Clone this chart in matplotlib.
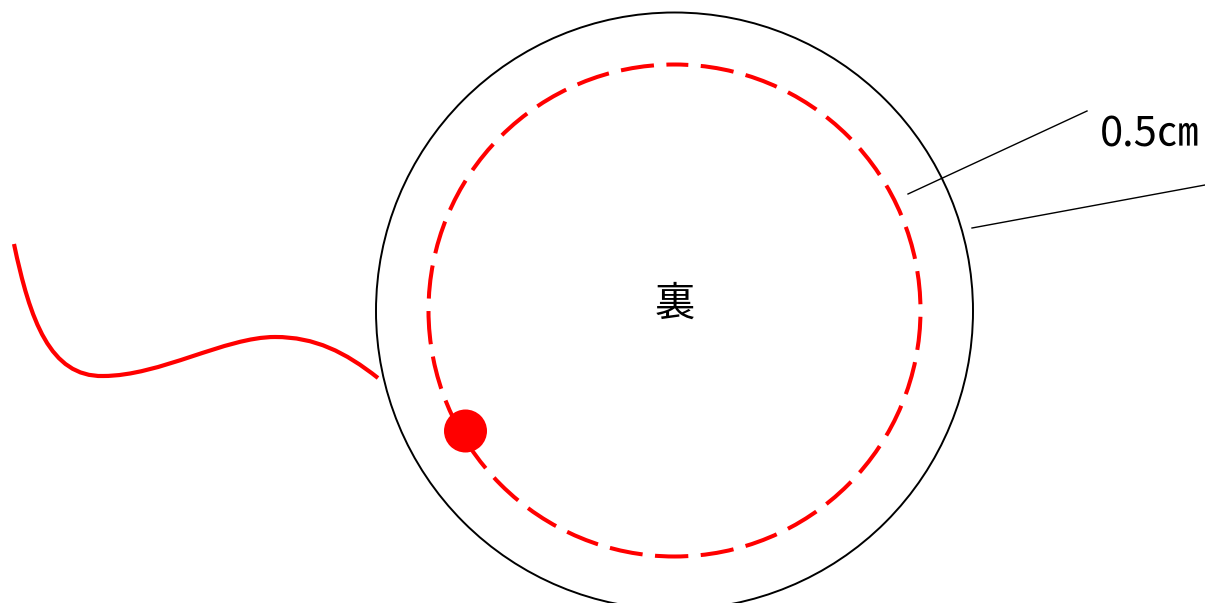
from matplotlib import pyplot as plt
from matplotlib.patches import Circle, PathPatch
from matplotlib.path import Path

W, H = 1205, 603

outer_circle = (674.5, 311, 298.5)
inner_circle = (674.5, 310.5, 246)
dot = (465.5, 431, 21.5)

leader_top_x = [908, 1087]
leader_top_y = [194, 111]
leader_bottom_x = [972, 1205]
leader_bottom_y = [228, 185]

thread_verts = [(14, 244), (30, 320), (50, 377), (103, 376), (160, 376), (225, 337), (275, 337), (315, 337), (345, 352), (378, 378)]

center_label = "裏"
size_label = "0.5㎝"

plt.rcParams['font.family'] = ['Noto Sans CJK JP', 'DejaVu Sans']

fig = plt.figure(figsize=(W / 100, H / 100), dpi=100)
ax = fig.add_axes([0, 0, 1, 1])
ax.set_xlim(0, W)
ax.set_ylim(H, 0)
ax.axis('off')

cx, cy, r = outer_circle
ax.add_patch(Circle((cx, cy), r, fill=False, edgecolor='black', linewidth=1.4))

# dash lengths are in linewidths, the offset puts a dash across the top of the circle
cx, cy, r = inner_circle
ax.add_patch(Circle((cx, cy), r, fill=False, edgecolor='#ff0000', linewidth=2.9, linestyle=(4.84, (8.27, 3.1))))

cx, cy, r = dot
ax.add_patch(Circle((cx, cy), r, facecolor='#ff0000', edgecolor='none', zorder=3))

codes = [Path.MOVETO] + [Path.CURVE4] * (len(thread_verts) - 1)
ax.add_patch(PathPatch(Path(thread_verts, codes), fill=False, edgecolor='#ff0000', linewidth=3.0))

ax.plot(leader_top_x, leader_top_y, color='black', linewidth=1.0)
ax.plot(leader_bottom_x, leader_bottom_y, color='black', linewidth=1.0)

ax.text(675, 304, center_label, fontsize=29, ha='center', va='center', color='black')
ax.text(1150, 135, size_label, fontsize=30, ha='center', va='center', color='black')

fig.savefig('out.png', dpi=100)
plt.close()
